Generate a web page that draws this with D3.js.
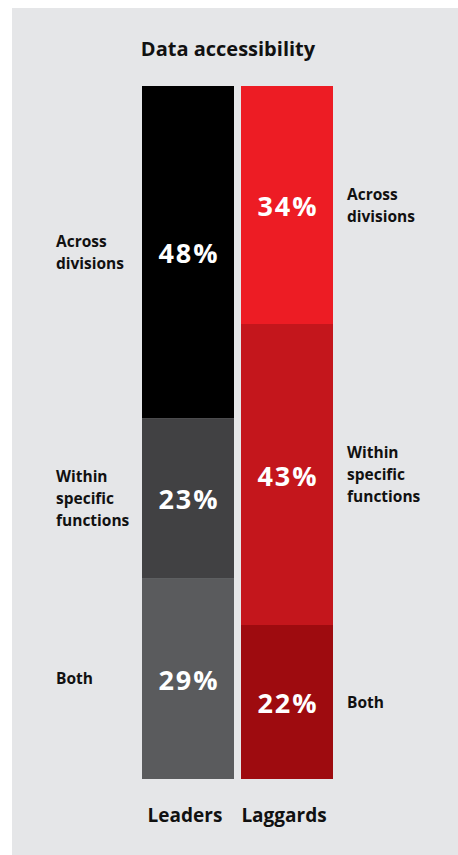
<!DOCTYPE html>
<html>
<head>
<meta charset="utf-8">
<script src="https://cdn.jsdelivr.net/npm/d3@7"></script>
<style>
  html, body { margin: 0; padding: 0; background: #fff; }
  svg { display: block; font-family: "Open Sans", "Noto Sans", sans-serif; }
</style>
</head>
<body>
<svg id="chart"></svg>
<script>
const title = 'Data accessibility';
const groups = ['Leaders', 'Laggards'];
const categories = ['Across divisions', 'Within specific functions', 'Both'];
const categoryLines = [['Across', 'divisions'], ['Within', 'specific', 'functions'], ['Both']];
const leadersValues = [48, 23, 29];
const laggardsValues = [34, 43, 22];
const leadersColors = ['#000000', '#414143', '#5a5b5d'];
const laggardsColors = ['#ed1c24', '#c4161c', '#9e0b0f'];

const width = 458;
const height = 855;
const svg = d3.select('#chart').attr('width', width).attr('height', height);

// panel
svg.append('rect').attr('x', 12).attr('y', 8).attr('width', width - 12).attr('height', height - 8).attr('fill', '#e5e6e8');

svg.append('text').attr('x', 228).attr('y', 56).attr('text-anchor', 'middle')
  .attr('font-size', 20).attr('font-weight', 700).attr('fill', '#111').text(title);

const barTop = 86;
const barBottom = 779;
const x = d3.scaleBand(groups, [142, 333]).paddingInner(7 / 99).paddingOuter(0);

const series = [
  { group: 'Leaders', values: leadersValues, colors: leadersColors, side: 'left' },
  { group: 'Laggards', values: laggardsValues, colors: laggardsColors, side: 'right' },
];

series.forEach((s) => {
  const total = d3.sum(s.values);
  const y = d3.scaleLinear([0, total], [barTop, barBottom]);
  let acc = 0;
  const segs = s.values.map((v, i) => {
    const d = { v, i, y0: acc, y1: acc + v, color: s.colors[i] };
    acc += v;
    return d;
  });
  const g = svg.append('g');
  g.selectAll('rect').data(segs).join('rect')
    .attr('x', x(s.group)).attr('width', x.bandwidth())
    .attr('y', (d) => y(d.y0)).attr('height', (d) => y(d.y1) - y(d.y0))
    .attr('fill', (d) => d.color);
  g.selectAll('text.pct').data(segs).join('text').attr('class', 'pct')
    .attr('x', x(s.group) + x.bandwidth() / 2 + 1)
    .attr('y', (d) => (y(d.y0) + y(d.y1)) / 2 + 11)
    .attr('text-anchor', 'middle').attr('font-size', 27).attr('font-weight', 700)
    .attr('letter-spacing', 2).attr('fill', '#fff')
    .text((d) => d.v + '%');
  const lx = s.side === 'left' ? 56 : 347;
  segs.forEach((d) => {
    const lines = categoryLines[d.i];
    const cy = (y(d.y0) + y(d.y1)) / 2 + 5.5;
    const t = g.append('text').attr('font-size', 15.5).attr('font-weight', 700).attr('fill', '#111')
      .attr('aria-label', categories[d.i]);
    lines.forEach((ln, k) => {
      t.append('tspan').attr('x', lx).attr('y', cy + (k - (lines.length - 1) / 2) * 22).text(ln);
    });
  });
});

svg.append('g').selectAll('text').data(groups).join('text')
  .attr('x', (d) => x(d) + x.bandwidth() / 2 - 3).attr('y', 822)
  .attr('text-anchor', 'middle').attr('font-size', 19).attr('font-weight', 700).attr('fill', '#111')
  .text((d) => d);
</script>
</body>
</html>
